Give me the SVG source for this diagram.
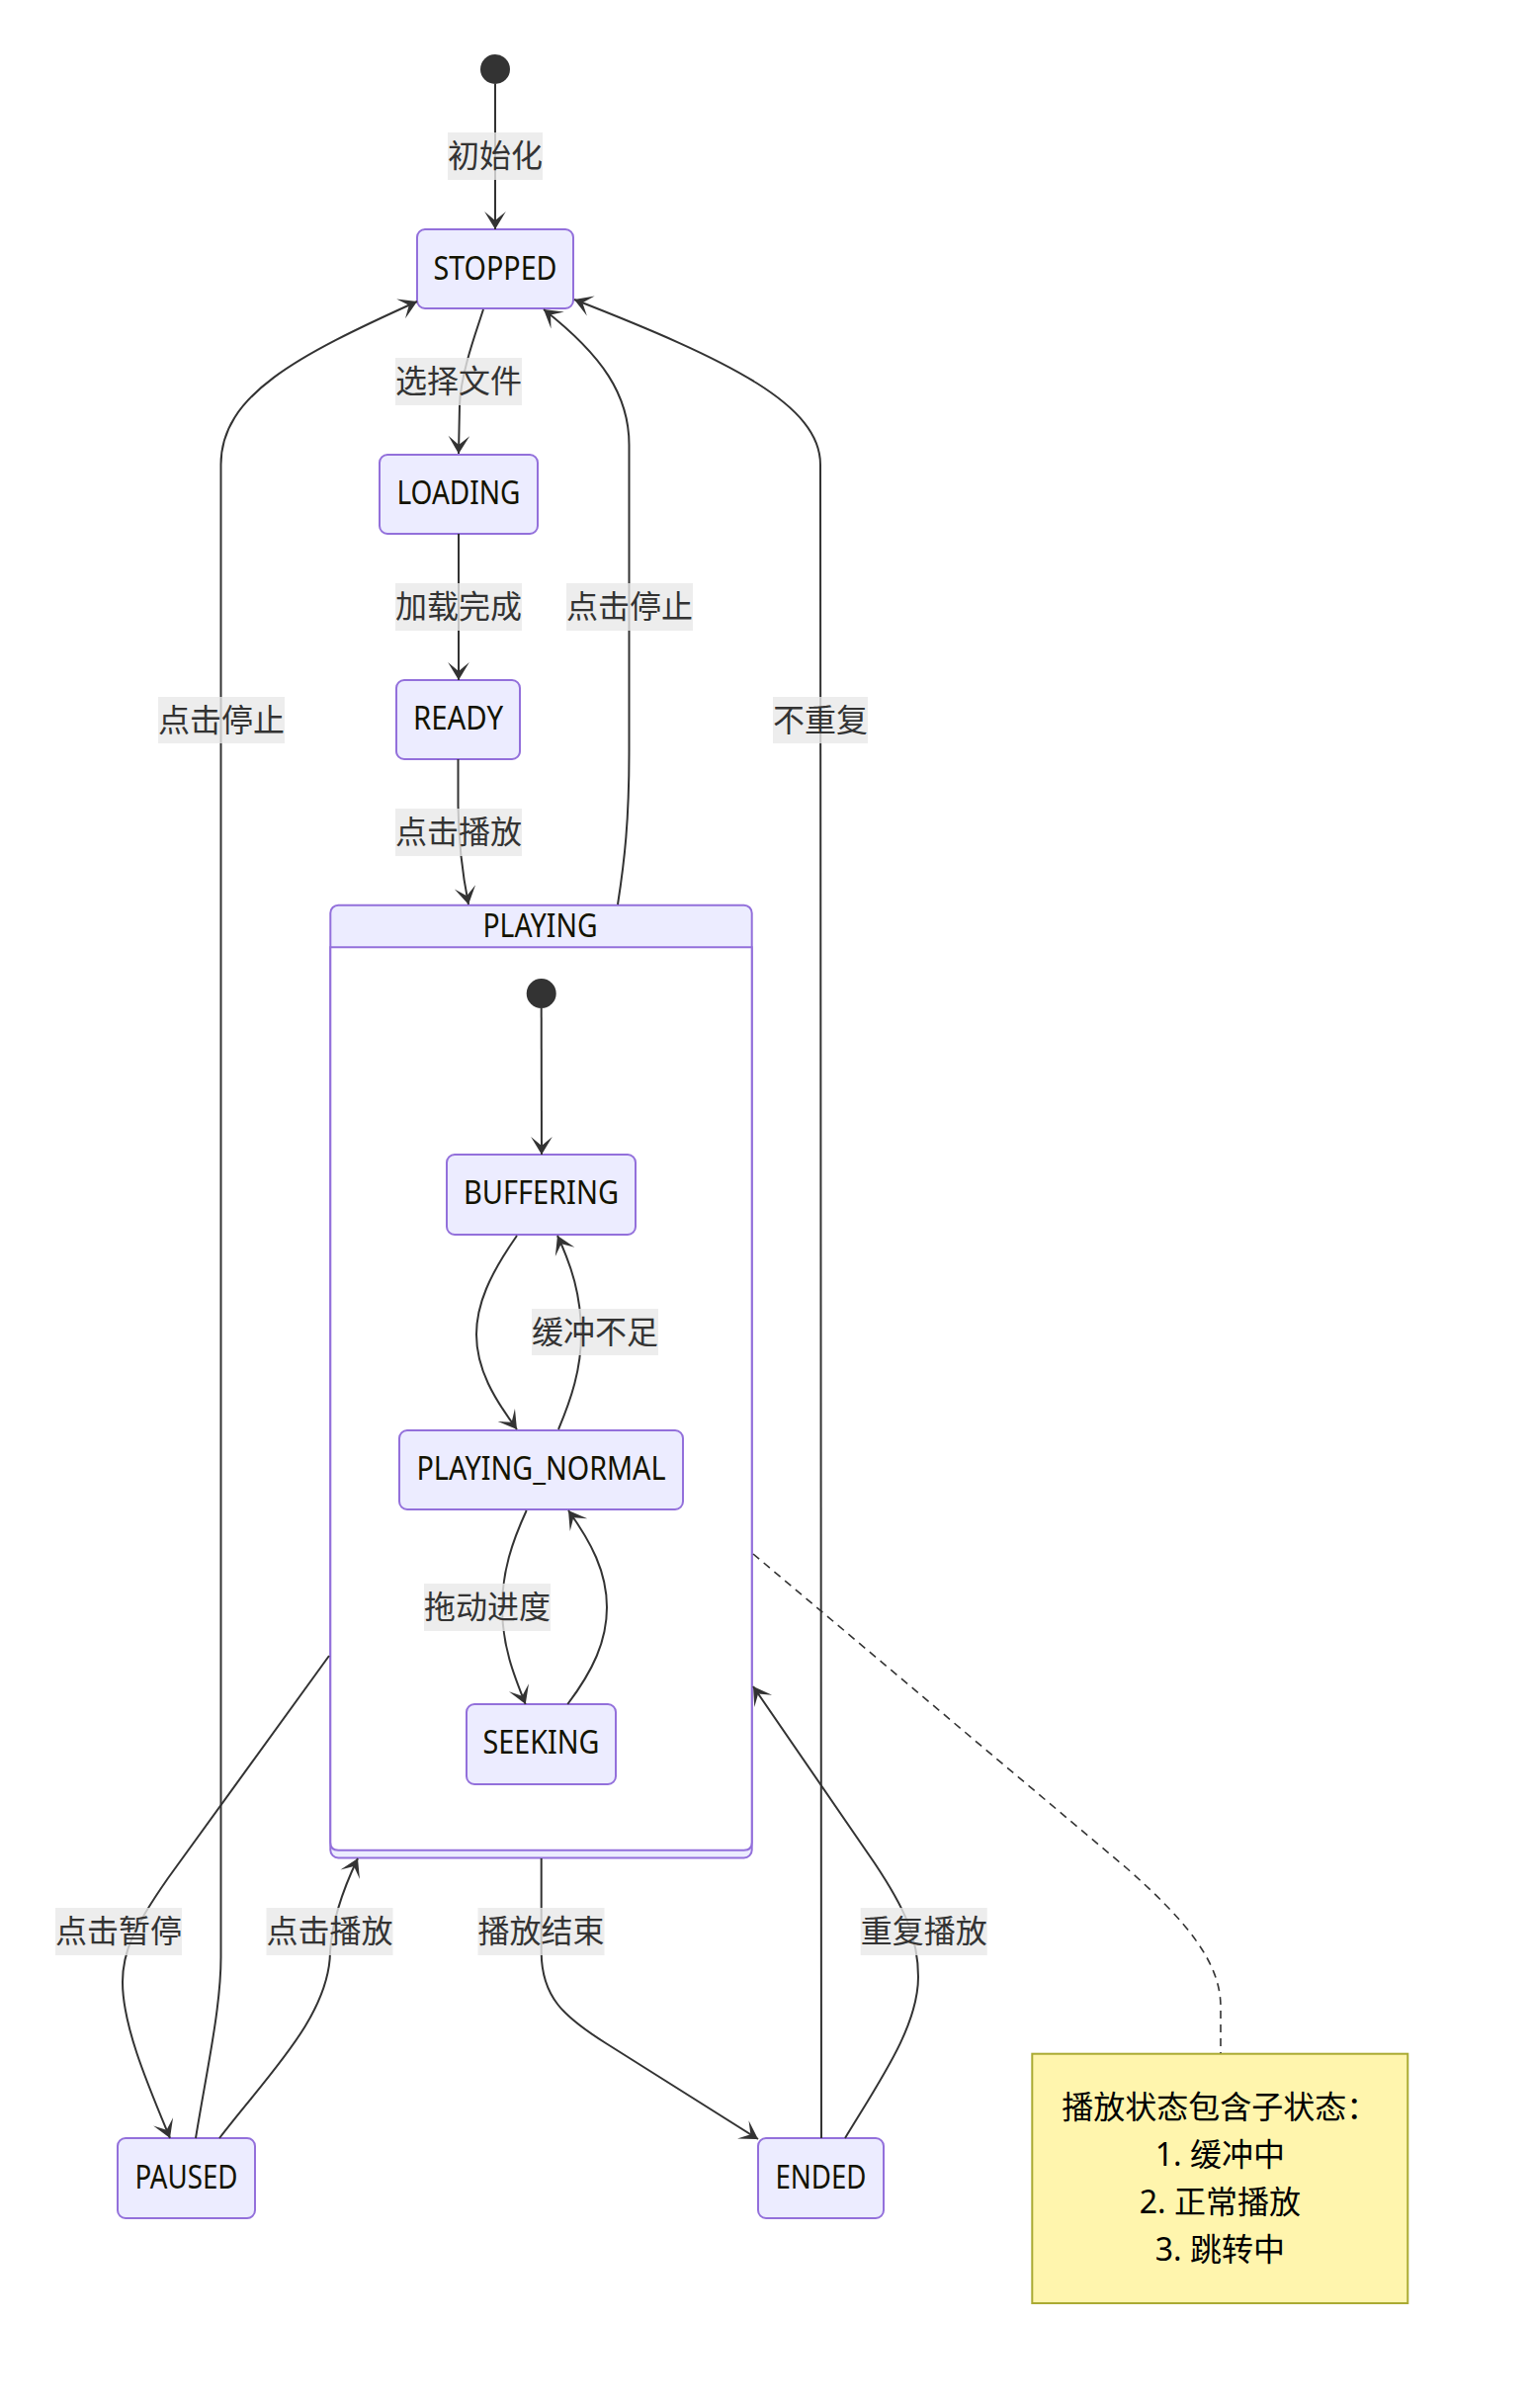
<svg xmlns="http://www.w3.org/2000/svg" width="1550" height="2436" viewBox="0 0 1550 2436">
<style>
  .bg { fill: #ffffff; }
  .state rect { fill: #ECECFF; stroke: #9370DB; stroke-width: 2; }
  .ntext { font-family: "Noto Sans", Lato, "Noto Sans CJK SC", sans-serif; font-size: 32px; fill: #131300; text-anchor: middle; }
  .start { fill: #333333; }
  .edge { fill: none; stroke: #333333; stroke-width: 2; }
  .dash { fill: none; stroke: #333333; stroke-width: 1.6; stroke-dasharray: 8 6; }
  .lbg { fill: rgba(232,232,232,0.8); }
  .ltext { font-family: "Noto Sans CJK SC", sans-serif; font-size: 32px; fill: #333333; text-anchor: middle; }
  .note rect { fill: #fff5ad; stroke: #aaaa33; stroke-width: 2; }
  .notetext { font-family: "Noto Sans", "Noto Sans CJK SC", sans-serif; font-size: 32px; fill: #000000; text-anchor: middle; }
</style>
<defs>
  <marker id="barb" viewBox="0 0 20 14" refX="19" refY="7" markerWidth="36" markerHeight="25.2" markerUnits="userSpaceOnUse" orient="auto">
    <path d="M 19,7 L9,13 L14,7 L9,1 Z" fill="#333333"/>
  </marker>
</defs>
<rect class="bg" x="0" y="0" width="1550" height="2436"/>

<g id="start-root"><circle class="start" cx="501" cy="70" r="15"/></g>

<g id="PLAYING" class="state">
  <rect x="334.3" y="915.7" width="426.4" height="963.8" rx="8" ry="8"/>
  <path d="M334.3,958.3 H760.7 V1863.7 Q760.7,1871.7 752.7,1871.7 H342.3 Q334.3,1871.7 334.3,1863.7 Z" fill="#ffffff" stroke="#9370DB" stroke-width="2"/>
  <text class="ntext" x="546.5" y="948.3" textLength="116" lengthAdjust="spacingAndGlyphs">PLAYING</text>
  <circle class="start" cx="547.7" cy="1005" r="15"/>
</g>

<g id="STOPPED" class="state"><rect x="422" y="232" width="158" height="80" rx="8" ry="8"/><text class="ntext" x="501" y="282.7" textLength="125" lengthAdjust="spacingAndGlyphs">STOPPED</text></g>
<g id="LOADING" class="state"><rect x="384" y="460" width="160" height="80" rx="8" ry="8"/><text class="ntext" x="464" y="510" textLength="125" lengthAdjust="spacingAndGlyphs">LOADING</text></g>
<g id="READY" class="state"><rect x="401" y="688" width="125" height="80" rx="8" ry="8"/><text class="ntext" x="463.5" y="737.7" textLength="91" lengthAdjust="spacingAndGlyphs">READY</text></g>
<g id="BUFFERING" class="state"><rect x="452" y="1168" width="191" height="81" rx="8" ry="8"/><text class="ntext" x="547.5" y="1218.3" textLength="157" lengthAdjust="spacingAndGlyphs">BUFFERING</text></g>
<g id="PLAYING_NORMAL" class="state"><rect x="404" y="1447" width="287" height="80" rx="8" ry="8"/><text class="ntext" x="547.5" y="1496.7" textLength="252" lengthAdjust="spacingAndGlyphs">PLAYING_NORMAL</text></g>
<g id="SEEKING" class="state"><rect x="472" y="1724" width="151" height="81" rx="8" ry="8"/><text class="ntext" x="547.5" y="1774" textLength="118" lengthAdjust="spacingAndGlyphs">SEEKING</text></g>
<g id="PAUSED" class="state"><rect x="119" y="2163" width="139" height="81" rx="8" ry="8"/><text class="ntext" x="188.5" y="2214" textLength="104" lengthAdjust="spacingAndGlyphs">PAUSED</text></g>
<g id="ENDED" class="state"><rect x="767" y="2163" width="127" height="81" rx="8" ry="8"/><text class="ntext" x="830.5" y="2214" textLength="92" lengthAdjust="spacingAndGlyphs">ENDED</text></g>

<g id="note" class="note">
  <rect x="1044.3" y="2077.7" width="380" height="252.3"/>
  <text class="notetext" x="1234.3" y="2143">播放状态包含子状态：</text>
  <text class="notetext" x="1234.3" y="2191">1. 缓冲中</text>
  <text class="notetext" x="1234.3" y="2239">2. 正常播放</text>
  <text class="notetext" x="1234.3" y="2287">3. 跳转中</text>
</g>

<g id="connectors">
  <path class="edge" d="M501,85 L501,232" marker-end="url(#barb)"/>
  <path class="edge" d="M489,313 C481,338 466,378 465,410 L464,459" marker-end="url(#barb)"/>
  <path class="edge" d="M464,540 L464,688" marker-end="url(#barb)"/>
  <path class="edge" d="M463.5,768 L463.5,815 C464,860 469,890 474,915" marker-end="url(#barb)"/>
  <path class="edge" d="M625,915 C632,870 636.5,830 636.5,760 L636.5,450 C636.5,400 610,360 550,313" marker-end="url(#barb)"/>
  <path class="edge" d="M831,2163 L830,470 C830,410 740,365 581,303" marker-end="url(#barb)"/>
  <path class="edge" d="M198,2163 C210,2090 223.5,2030 223.5,1980 L223.5,470 C223.5,400 300,360 422,305" marker-end="url(#barb)"/>
  <path class="edge" d="M547.7,1020 L548,1168" marker-end="url(#barb)"/>
  <path class="edge" d="M523,1250 C495,1290 482,1320 482,1350 C482,1385 500,1415 523,1446" marker-end="url(#barb)"/>
  <path class="edge" d="M565,1446 C578,1415 588,1385 588,1350 C588,1310 578,1280 564,1250" marker-end="url(#barb)"/>
  <path class="edge" d="M532.7,1528 C518,1560 508,1590 508,1626 C508,1665 520,1695 531.7,1724" marker-end="url(#barb)"/>
  <path class="edge" d="M574.3,1724 C600,1690 614,1660 614,1626 C614,1590 598,1560 575,1528" marker-end="url(#barb)"/>
  <path class="edge" d="M333,1675 L170,1900 C135,1950 124,1975 124,2005 C124,2050 150,2110 172,2163" marker-end="url(#barb)"/>
  <path class="edge" d="M222,2163 C270,2100 333,2040 334,1975 C336,1940 350,1905 362,1880" marker-end="url(#barb)"/>
  <path class="edge" d="M547.7,1880 L547.7,1975 C548,2020 570,2040 613,2067 L767,2164" marker-end="url(#barb)"/>
  <path class="edge" d="M855,2163 C890,2105 929,2050 929,2000 C929,1960 915,1930 885,1885 L762,1706" marker-end="url(#barb)"/>
  <path class="dash" d="M762,1572 L1140,1890 C1200,1943 1235,1985 1235,2030 L1235,2077"/>

  <g id="edge-labels">
    <rect class="lbg" x="453" y="134" width="96" height="48"/><text class="ltext" x="501" y="169">初始化</text>
    <rect class="lbg" x="400" y="362" width="128" height="48"/><text class="ltext" x="464" y="397">选择文件</text>
    <rect class="lbg" x="400" y="590" width="128" height="48"/><text class="ltext" x="464" y="625">加载完成</text>
    <rect class="lbg" x="573" y="590" width="128" height="48"/><text class="ltext" x="637" y="625">点击停止</text>
    <rect class="lbg" x="400" y="818" width="128" height="48"/><text class="ltext" x="464" y="853">点击播放</text>
    <rect class="lbg" x="160" y="705" width="128" height="47"/><text class="ltext" x="224" y="739.5">点击停止</text>
    <rect class="lbg" x="782" y="705" width="96" height="47"/><text class="ltext" x="830" y="739.5">不重复</text>
    <rect class="lbg" x="538" y="1324" width="128" height="47"/><text class="ltext" x="602" y="1358.5">缓冲不足</text>
    <rect class="lbg" x="429" y="1602" width="128" height="48"/><text class="ltext" x="493" y="1637">拖动进度</text>
    <rect class="lbg" x="56" y="1930" width="128" height="48"/><text class="ltext" x="120" y="1965">点击暂停</text>
    <rect class="lbg" x="269.5" y="1930" width="128" height="48"/><text class="ltext" x="333.5" y="1965">点击播放</text>
    <rect class="lbg" x="483.5" y="1930" width="128" height="48"/><text class="ltext" x="547.5" y="1965">播放结束</text>
    <rect class="lbg" x="870.7" y="1930" width="128" height="48"/><text class="ltext" x="934.7" y="1965">重复播放</text>
  </g>
</g>
</svg>
